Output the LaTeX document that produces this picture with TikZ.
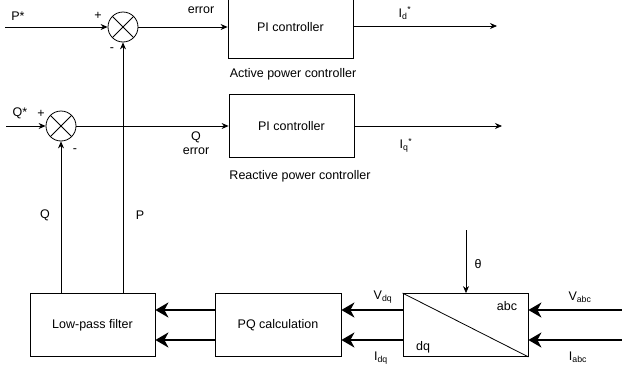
\documentclass[tikz,border=0pt]{standalone}
\usepackage{fontspec}
\setmainfont{Liberation Sans}
\usetikzlibrary{arrows.meta}

\tikzset{
    block/.style={draw, line width=0.8pt, minimum width=125pt, minimum height=63pt, inner sep=0pt},
    summer/.style={draw, circle, line width=0.8pt, minimum size=30pt, inner sep=0pt,
        path picture={\draw[line width=0.8pt] (path picture bounding box.north west) -- (path picture bounding box.south east)
            (path picture bounding box.north east) -- (path picture bounding box.south west);}},
    sig/.style={line width=0.8pt, -{Stealth[length=7pt,width=6pt]}},
    bus/.style={line width=2.6pt, -{Stealth[length=13pt,width=15pt,inset=4pt]}},
}

\begin{document}
\begin{tikzpicture}[x=1pt, y=-1pt, font=\fontsize{12.5}{15}\selectfont]
                        \useasboundingbox (0, 0) rectangle (622, 367);
                        % Blocks and summing points:
                        \node[summer](S1) at (123, 27){};
                        \node[summer](S2) at (61, 126){};
                        \node[block](PI1) at (290.5, 27){PI controller};
                        \node[block](PI2) at (291.5, 126){PI controller};
                        \node[block](LPF) at (92.5, 325){Low-pass filter};
                        \node[block, minimum width=126pt](PQ) at (278, 325){PQ calculation};
                        \node[block](TR) at (465.5, 325){};
                        \draw[line width=0.8pt] (TR.north west) -- (TR.south east);
                        \node(abc) at (507, 306){abc};
                        \node(dq) at (423, 347){dq};
                        % Free ends:
                        \coordinate(Pin) at (5, 27);
                        \coordinate(Qin) at (6, 126);
                        \coordinate(Idout) at (497, 26);
                        \coordinate(Iqout) at (502, 126);
                        \coordinate(thetain) at (466, 230);
                        \coordinate(Vin) at (624, 310);
                        \coordinate(Iin) at (624, 340);
                        % Signal paths:
                        \draw[sig] (Pin) -- (S1.west);
                        \draw[sig] (S1.east) -- (S1.east -| PI1.west);
                        \draw[sig] (PI1.east |- Idout) -- (Idout);
                        \draw[sig] (Qin) -- (S2.west);
                        \draw[sig] (S2.east) -- (PI2.west);
                        \draw[sig] (PI2.east) -- (Iqout);
                        \draw[sig] (LPF.north -| S2) -- (S2.south);
                        \draw[sig] (LPF.north -| S1) -- (S1.south);
                        \draw[sig] (thetain) -- (TR.north -| thetain);
                        \draw[bus] (Vin) -- (TR.east |- Vin);
                        \draw[bus] (Iin) -- (TR.east |- Iin);
                        \draw[bus] (TR.west |- Vin) -- (PQ.east |- Vin);
                        \draw[bus] (TR.west |- Iin) -- (PQ.east |- Iin);
                        \draw[bus] (PQ.west |- Vin) -- (LPF.east |- Vin);
                        \draw[bus] (PQ.west |- Iin) -- (LPF.east |- Iin);
                        % Labels:
                        \node(Pstar) at (18, 16){P*};
                        \node(S1plus) at (98, 16){+};
                        \node(S1minus) at (112, 50){-};
                        \node(err1) at (201, 10){error};
                        \node(Idstar) at (405, 13){I\textsubscript{d}\textsuperscript{*}};
                        \node(apc) at (293, 74){Active power controller};
                        \node(Qstar) at (20, 113){Q*};
                        \node(S2plus) at (41, 114){+};
                        \node(S2minus) at (75, 151){-};
                        \node(Qerr) at (196, 137){Q};
                        \node(err2) at (196, 151){error};
                        \node(Iqstar) at (406, 145){I\textsubscript{q}\textsuperscript{*}};
                        \node(rpc) at (300, 176){Reactive power controller};
                        \node(Qfb) at (45, 215){Q};
                        \node(Pfb) at (140, 215){P};
                        \node(theta) at (478, 264){θ};
                        \node(Vdq) at (383, 297){V\textsubscript{dq}};
                        \node(Idq) at (381, 358){I\textsubscript{dq}};
                        \node(Vabc) at (580, 297){V\textsubscript{abc}};
                        \node(Iabc) at (578, 357){I\textsubscript{abc}};
                    \end{tikzpicture}
\end{document}
